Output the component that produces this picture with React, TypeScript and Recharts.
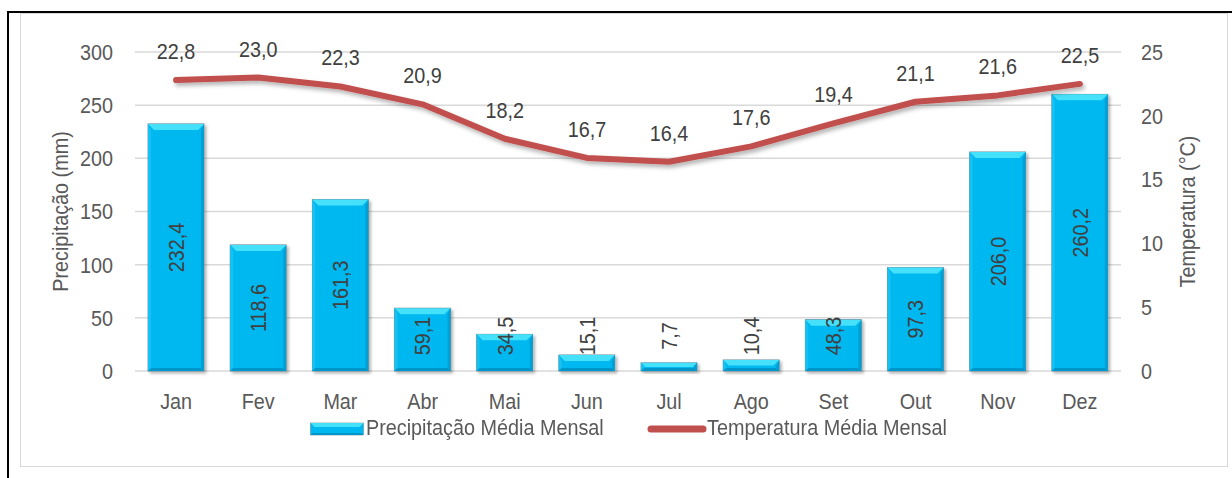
import React from 'react';
import {
  Bar,
  CartesianGrid,
  ComposedChart,
  LabelList,
  Legend,
  Line,
  XAxis,
  YAxis,
} from 'recharts';

const months = ['Jan', 'Fev', 'Mar', 'Abr', 'Mai', 'Jun', 'Jul', 'Ago', 'Set', 'Out', 'Nov', 'Dez'];
const precipitation = [232.4, 118.6, 161.3, 59.1, 34.5, 15.1, 7.7, 10.4, 48.3, 97.3, 206.0, 260.2];
const temperature = [22.8, 23.0, 22.3, 20.9, 18.2, 16.7, 16.4, 17.6, 19.4, 21.1, 21.6, 22.5];
const precipTicks = [0, 50, 100, 150, 200, 250, 300];
const tempTicks = [0, 5, 10, 15, 20, 25];

// Arial metrics squeezed horizontally to get a narrow face
const FONT = '"Liberation Sans", Arial, sans-serif';
const NARROW = 0.9;
const SIZE = 22;
const TEXT = '#595959';
const LABEL = '#404040';
const LINE_RED = '#C0504D';

const data = months.map((m, i) => ({
  month: m,
  precip: precipitation[i],
  temp: temperature[i],
}));

const fmt = (v: number) => v.toFixed(1).replace('.', ',');

function NarrowText({ x, y, anchor = 'middle', baseline = 'central', rotate = 0, fill = TEXT, children }: any) {
  return (
    <g transform={`translate(${x},${y}) rotate(${rotate}) scale(${NARROW},1)`}>
      <text
        x={0}
        y={0}
        textAnchor={anchor}
        dominantBaseline={baseline}
        fill={fill}
        fontSize={SIZE}
        fontFamily={FONT}
      >
        {children}
      </text>
    </g>
  );
}

function MonthTick(props: any) {
  const { x, y, payload } = props;
  return (
    <NarrowText x={x} y={y} baseline="hanging">
      {payload.value}
    </NarrowText>
  );
}

function LeftTick(props: any) {
  const { x, y, payload } = props;
  return (
    <NarrowText x={x} y={y} anchor="end">
      {payload.value}
    </NarrowText>
  );
}

function RightTick(props: any) {
  const { x, y, payload } = props;
  return (
    <NarrowText x={x} y={y} anchor="start">
      {payload.value}
    </NarrowText>
  );
}

function AxisTitle(props: any) {
  const { viewBox, text, dx } = props;
  const cx = viewBox.x + viewBox.width / 2 + dx;
  const cy = viewBox.y + viewBox.height / 2;
  return (
    <NarrowText x={cx} y={cy} rotate={-90}>
      {text}
    </NarrowText>
  );
}

// beveled cyan column
function BevelBar(props: any) {
  const { x, y, width, height } = props;
  if (!height || height <= 0) return null;
  const t = Math.min(6, height / 2);
  const s = Math.min(3, height / 2);
  return (
    <g filter="url(#barShadow)">
      <rect x={x} y={y} width={width} height={height} fill="#00B8F0" stroke="#6C8A96" strokeWidth={0.8} />
      <polygon
        points={`${x},${y} ${x + width},${y} ${x + width - t},${y + t} ${x + t},${y + t}`}
        fill="#45E0F9"
      />
      <polygon
        points={`${x},${y} ${x + s},${y + t} ${x + s},${y + height - s} ${x},${y + height}`}
        fill="#12C2F4"
      />
      <polygon
        points={`${x + width},${y} ${x + width},${y + height} ${x + width - s},${y + height - s} ${x + width - s},${y + t}`}
        fill="#009FD4"
      />
      <polygon
        points={`${x},${y + height} ${x + width},${y + height} ${x + width - s},${y + height - s} ${x + s},${y + height - s}`}
        fill="#0096C9"
      />
    </g>
  );
}

// rotated value inside the column; kept above the axis for short columns
function BarValue(props: any) {
  const { x, y, width, height, value } = props;
  const cx = Number(x) + Number(width) / 2;
  const cy = Math.min(Number(y) + Number(height) / 2, 336);
  return (
    <NarrowText x={cx} y={cy} rotate={-90} fill={LABEL}>
      {fmt(Number(value))}
    </NarrowText>
  );
}

function TempValue(props: any) {
  const { x, y, value } = props;
  return (
    <NarrowText x={Number(x)} y={Number(y) - 21} baseline="auto" fill={LABEL}>
      {fmt(Number(value))}
    </NarrowText>
  );
}

const legendText: React.CSSProperties = {
  position: 'absolute',
  top: 0,
  fontFamily: FONT,
  fontSize: SIZE,
  color: TEXT,
  lineHeight: '24px',
  whiteSpace: 'nowrap',
  transform: `scaleX(${NARROW})`,
  transformOrigin: 'left center',
};

function LegendContent() {
  return (
    <div style={{ position: 'relative', height: 24, width: 1232 }}>
      <svg width={54} height={14} style={{ position: 'absolute', left: 310, top: 6 }}>
        <rect x={0.5} y={1} width={53} height={12} fill="#00B8F0" stroke="#6C8A96" strokeWidth={0.6} />
        <polygon points="0.5,1 53.5,1 49.5,5 4.5,5" fill="#45E0F9" />
        <polygon points="0.5,13 53.5,13 51.5,11 2.5,11" fill="#0096C9" />
      </svg>
      <span style={{ ...legendText, left: 366 }}>Precipitação Média Mensal</span>
      <svg width={62} height={10} style={{ position: 'absolute', left: 646, top: 8 }}>
        <line x1={5} y1={5} x2={57} y2={5} stroke={LINE_RED} strokeWidth={7} strokeLinecap="round" />
      </svg>
      <span style={{ ...legendText, left: 707 }}>Temperatura Média Mensal</span>
    </div>
  );
}

export default function App() {
  return (
    <div style={{ position: 'relative', width: 1232, height: 478, background: '#fff', overflow: 'hidden' }}>
      <style>{'body{margin:0}'}</style>
      {/* frame lines around the chart */}
      <div style={{ position: 'absolute', left: 7, top: 11, width: 2, height: 467, background: '#000' }} />
      <div style={{ position: 'absolute', left: 7, top: 11, width: 1225, height: 2, background: '#000' }} />
      <div
        style={{
          position: 'absolute',
          left: 20,
          top: 13,
          width: 1206,
          height: 452,
          border: '1.5px solid #D9D9D9',
        }}
      />
      <div style={{ position: 'absolute', left: 0, top: 0 }}>
        <ComposedChart
          width={1232}
          height={478}
          data={data}
          margin={{ top: 52, right: 31, bottom: 67, left: 35 }}
        >
          <defs>
            <filter id="barShadow" x="-20%" y="-20%" width="150%" height="150%">
              <feDropShadow dx={2} dy={2} stdDeviation={1.5} floodColor="#000" floodOpacity={0.3} />
            </filter>
            <filter id="lineShadow" x="-10%" y="-50%" width="120%" height="200%">
              <feDropShadow dx={2} dy={3} stdDeviation={2} floodColor="#000" floodOpacity={0.3} />
            </filter>
          </defs>
          <CartesianGrid yAxisId="left" vertical={false} stroke="#D9D9D9" strokeWidth={1.5} />
          <XAxis
            dataKey="month"
            axisLine={false}
            tickLine={false}
            tickSize={0}
            tickMargin={22}
            height={40}
            tick={<MonthTick />}
          />
          <YAxis
            yAxisId="left"
            domain={[0, 300]}
            ticks={precipTicks}
            axisLine={false}
            tickLine={false}
            tickSize={0}
            tickMargin={22}
            width={100}
            tick={<LeftTick />}
            label={<AxisTitle text="Precipitação (mm)" dx={-25} />}
          />
          <YAxis
            yAxisId="right"
            orientation="right"
            domain={[0, 25]}
            ticks={tempTicks}
            axisLine={false}
            tickLine={false}
            tickSize={0}
            tickMargin={20}
            width={80}
            tick={<RightTick />}
            label={<AxisTitle text="Temperatura (°C)" dx={26} />}
          />
          <Legend
            layout="horizontal"
            verticalAlign="middle"
            wrapperStyle={{ top: 416, left: 0, width: 1232 }}
            content={<LegendContent />}
          />
          <Bar
            yAxisId="left"
            dataKey="precip"
            name="Precipitação Média Mensal"
            barSize={56}
            shape={<BevelBar />}
            isAnimationActive={false}
          >
            <LabelList dataKey="precip" content={<BarValue />} />
          </Bar>
          <Line
            yAxisId="right"
            dataKey="temp"
            name="Temperatura Média Mensal"
            type="linear"
            stroke={LINE_RED}
            strokeWidth={6}
            strokeLinecap="round"
            strokeLinejoin="round"
            dot={false}
            activeDot={false}
            filter="url(#lineShadow)"
            isAnimationActive={false}
          >
            <LabelList dataKey="temp" content={<TempValue />} />
          </Line>
        </ComposedChart>
      </div>
    </div>
  );
}
